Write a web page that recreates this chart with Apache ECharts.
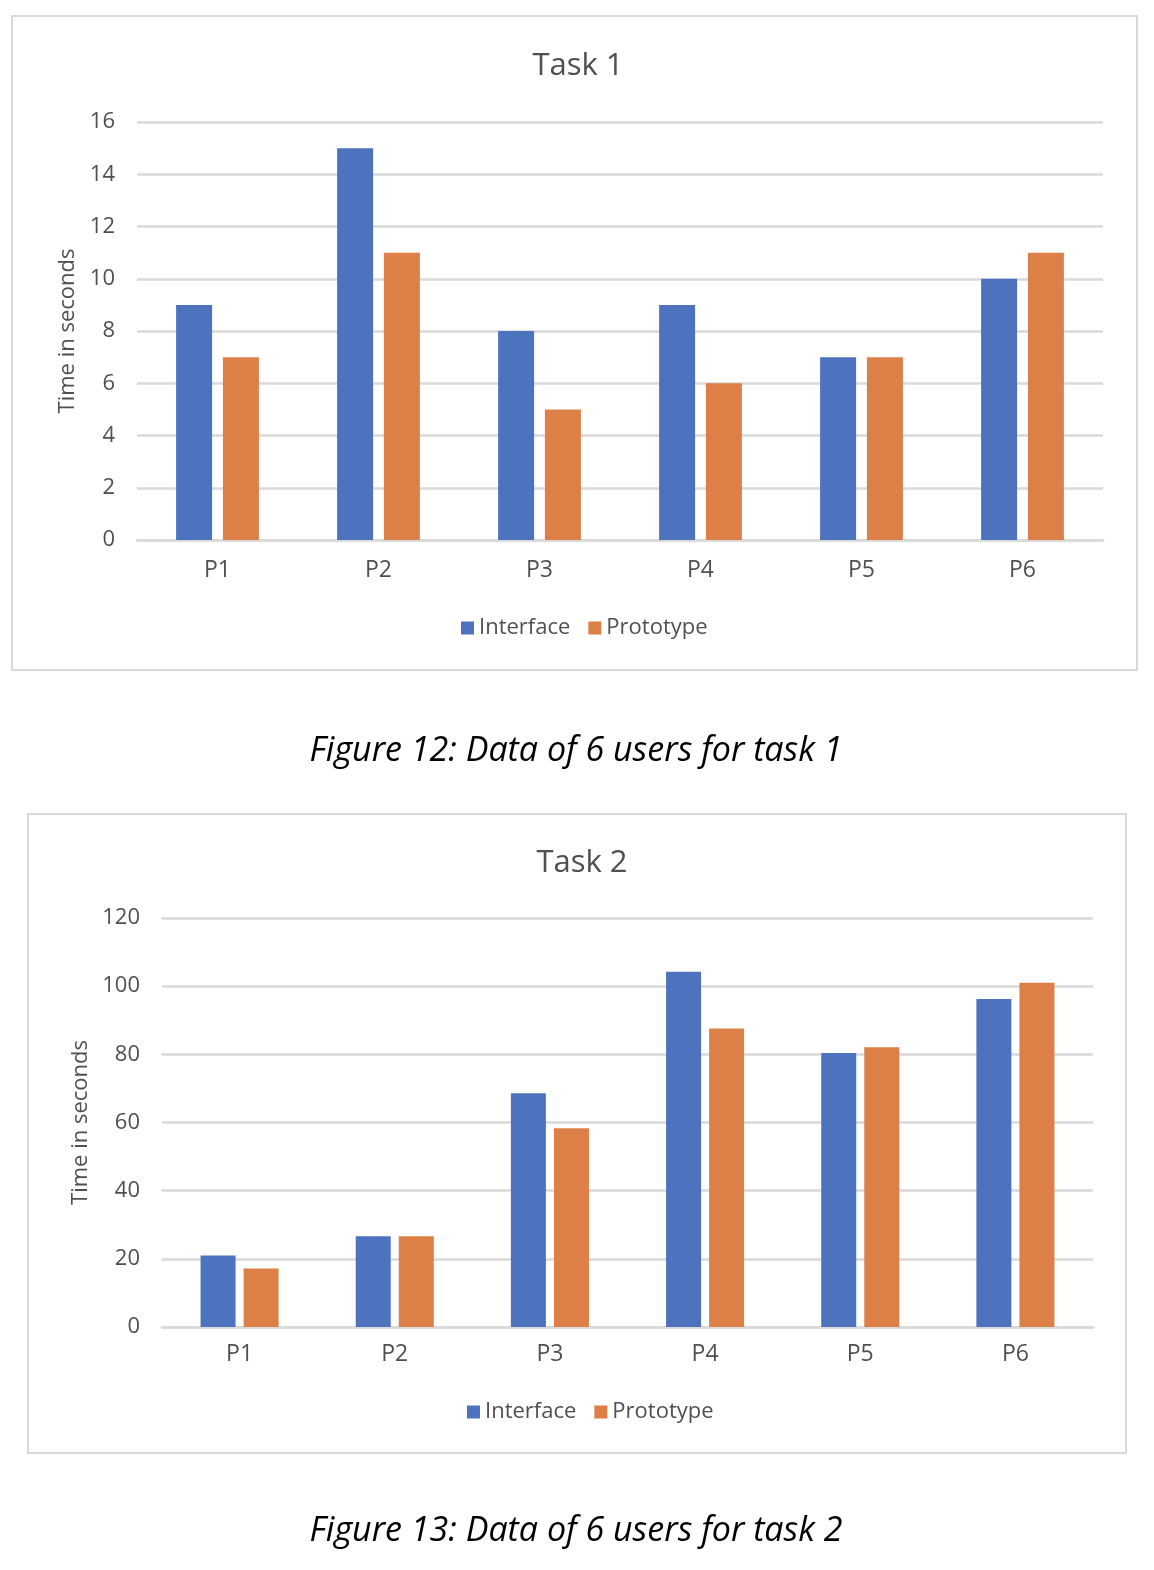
<!DOCTYPE html>
<html>
<head>
<meta charset="utf-8">
<title>Task 1 and Task 2</title>
<script src="https://cdn.jsdelivr.net/npm/echarts@6/dist/echarts.min.js"></script>
<style>
  html, body { margin: 0; padding: 0; background: #fff; }
  #page { width: 1154px; height: 1570px; }
</style>
</head>
<body>
<div id="page"></div>
<script>
// participants and timings
var participants = ['P1', 'P2', 'P3', 'P4', 'P5', 'P6'];
var task1Interface = [9, 15, 8, 9, 7, 10];
var task1Prototype = [7, 11, 5, 6, 7, 11];
var task2Interface = [21, 26.6, 68.6, 104.2, 80.4, 96.2];
var task2Prototype = [17.2, 26.6, 58.3, 87.6, 82.1, 101];

var blue = '#4e73be';
var orange = '#dc8047';
var grey = '#505050';
var gridGrey = '#d9d9d9';
var font = 'Open Sans';

var myChart = echarts.init(document.getElementById('page'));

function xAxis(gridIndex, margin) {
    return {
        type: 'category',
        gridIndex: gridIndex,
        data: participants,
        axisLine: { lineStyle: { color: gridGrey, width: 2.5 } },
        axisTick: { show: false },
        axisLabel: { color: grey, fontSize: 23, fontFamily: font, margin: margin }
    };
}

function yAxis(gridIndex, max, interval, gap) {
    return {
        type: 'value',
        gridIndex: gridIndex,
        min: 0,
        max: max,
        interval: interval,
        name: 'Time in seconds',
        nameLocation: 'middle',
        nameGap: gap,
        nameTextStyle: { color: grey, fontSize: 22, fontFamily: font },
        axisLine: { show: false },
        axisTick: { show: false },
        axisLabel: { color: grey, fontSize: 22, fontFamily: font, margin: 22 },
        splitLine: { lineStyle: { color: gridGrey, width: 2.5 } }
    };
}

function legend(left, top) {
    return {
        left: left,
        top: top,
        itemWidth: 13,
        itemHeight: 13,
        itemGap: 18,
        icon: 'rect',
        data: ['Interface', 'Prototype'],
        textStyle: { color: grey, fontSize: 22, fontFamily: font }
    };
}

var option = {
    animation: false,
    title: [{
        text: 'Task 1',
        left: 573,
        top: 46,
        textAlign: 'center',
        textStyle: { color: grey, fontSize: 31, fontWeight: 'normal', fontFamily: font }
    }, {
        text: 'Task 2',
        left: 577,
        top: 843,
        textAlign: 'center',
        textStyle: { color: grey, fontSize: 31, fontWeight: 'normal', fontFamily: font }
    }],
    legend: [legend(456, 612), legend(462, 1396)],
    grid: [
        { left: 137, right: 51, top: 122, height: 418 },
        { left: 162, right: 61, top: 918, height: 409 }
    ],
    xAxis: [xAxis(0, 19), xAxis(1, 16)],
    yAxis: [yAxis(0, 16, 2, 58), yAxis(1, 120, 20, 66)],
    series: [{
        name: 'Interface', type: 'bar', xAxisIndex: 0, yAxisIndex: 0,
        data: task1Interface, barWidth: 36, barGap: '30%',
        itemStyle: { color: blue }
    }, {
        name: 'Prototype', type: 'bar', xAxisIndex: 0, yAxisIndex: 0,
        data: task1Prototype, barWidth: 36, barGap: '30%',
        itemStyle: { color: orange }
    }, {
        name: 'Interface', type: 'bar', xAxisIndex: 1, yAxisIndex: 1,
        data: task2Interface, barWidth: 35, barGap: '23%',
        itemStyle: { color: blue }
    }, {
        name: 'Prototype', type: 'bar', xAxisIndex: 1, yAxisIndex: 1,
        data: task2Prototype, barWidth: 35, barGap: '23%',
        itemStyle: { color: orange }
    }],
    graphic: [{
        type: 'rect',
        shape: { x: 12, y: 16, width: 1125, height: 654 },
        style: { fill: 'none', stroke: gridGrey, lineWidth: 2 },
        silent: true
    }, {
        type: 'rect',
        shape: { x: 28, y: 814, width: 1098, height: 639 },
        style: { fill: 'none', stroke: gridGrey, lineWidth: 2 },
        silent: true
    }, {
        type: 'text',
        x: 576, y: 751,
        style: {
            text: 'Figure 12: Data of 6 users for task 1',
            fill: '#000', fontSize: 34, fontStyle: 'italic', fontFamily: font,
            align: 'center', verticalAlign: 'middle'
        }
    }, {
        type: 'text',
        x: 576, y: 1531,
        style: {
            text: 'Figure 13: Data of 6 users for task 2',
            fill: '#000', fontSize: 34, fontStyle: 'italic', fontFamily: font,
            align: 'center', verticalAlign: 'middle'
        }
    }]
};

myChart.setOption(option);
</script>
</body>
</html>
